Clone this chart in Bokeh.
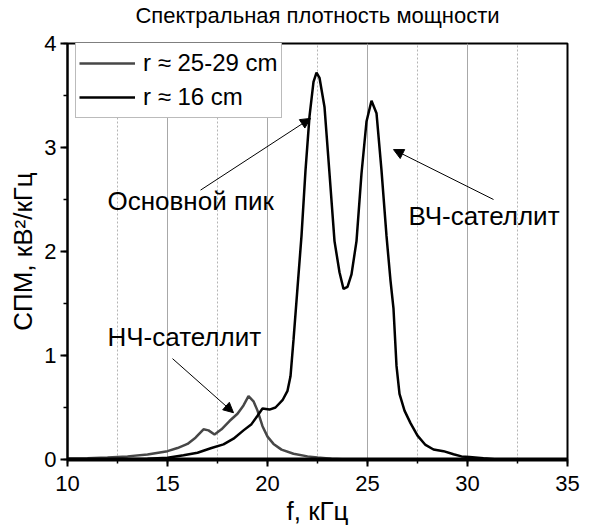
from bokeh.plotting import figure
from bokeh.models import (ColumnDataSource, SingleIntervalTicker, Label, Arrow,
                          NormalHead, Legend, LegendItem, Title)
from bokeh.embed import file_html
from bokeh.resources import INLINE

FONT = "Liberation Sans"

# Power spectral density, r ~ 25-29 cm (grey curve)
f_far = [10, 11, 12, 13, 14, 15, 15.5, 16, 16.4, 16.8, 17.05, 17.35, 17.7, 18.1,
         18.5, 18.8, 19.05, 19.3, 19.5, 19.75, 20.0, 20.3, 20.7, 21.3, 22.0, 22.5,
         23.2, 24]
psd_far = [0.01, 0.013, 0.02, 0.03, 0.048, 0.08, 0.11, 0.15, 0.21, 0.29, 0.28, 0.24,
           0.29, 0.37, 0.44, 0.52, 0.61, 0.56, 0.47, 0.32, 0.22, 0.15, 0.095, 0.055,
           0.03, 0.02, 0.008, 0.0]

# Power spectral density, r ~ 16 cm (black curve)
f_near = [10, 12, 13, 14, 15, 15.8, 16.5, 17.2, 17.8, 18.3, 18.8, 19.2, 19.5, 19.75,
          20.1, 20.4, 20.75, 21.0, 21.15, 21.3, 21.5, 21.7, 21.9, 22.1, 22.3, 22.45,
          22.6, 22.85, 23.1, 23.35, 23.6, 23.8, 24.0, 24.2, 24.45, 24.7, 24.95, 25.2,
          25.45, 25.7, 25.95, 26.15, 26.3, 26.45, 26.6, 26.85, 27.15, 27.5, 27.9,
          28.3, 28.8, 29.3, 29.7, 30.1, 30.8, 31.5, 35]
psd_near = [0.0, 0.002, 0.005, 0.008, 0.016, 0.04, 0.065, 0.11, 0.145, 0.2, 0.28,
            0.34, 0.42, 0.49, 0.48, 0.5, 0.57, 0.66, 0.8, 1.15, 1.65, 2.15, 2.78, 3.3,
            3.63, 3.72, 3.67, 3.39, 2.75, 2.1, 1.8, 1.64, 1.66, 1.78, 2.1, 2.75, 3.25,
            3.45, 3.33, 2.78, 2.15, 1.72, 1.45, 0.9, 0.63, 0.47, 0.35, 0.23, 0.14,
            0.096, 0.08, 0.05, 0.03, 0.025, 0.012, 0.0, 0.0]

series_labels = ["r \u2248 25-29 cm", "r \u2248 16 cm"]
series_colors = ["#474747", "#000000"]

title_text = "Спектральная плотность мощности"
x_label = "f, кГц"
y_label = "СПМ, кВ\u00b2/кГц"

# Annotation texts, anchors and arrow endpoints (data coordinates)
notes = ["Основной пик", "ВЧ-сателлит", "НЧ-сателлит"]
note_x = [12.0, 27.05, 12.0]
note_y = [2.49, 2.34, 1.18]
arrow_from = [(16.65, 2.59), (31.3, 2.50), (15.25, 0.97)]
arrow_to = [(22.15, 3.28), (26.3, 2.98), (18.3, 0.45)]

p = figure(width=596, height=531, x_range=(10, 35), y_range=(0, 4),
           output_backend="svg", toolbar_location=None,
           min_border_left=67, min_border_right=29, min_border_top=42,
           min_border_bottom=72)
p.background_fill_color = "white"
p.border_fill_color = "white"
p.outline_line_color = "black"
p.outline_line_width = 2

# chart title
p.title.text = title_text
p.title.align = "center"
p.title.vertical_align = "top"
p.title.standoff = 4
p.title.text_font = FONT
p.title.text_font_size = "22px"
p.title.text_font_style = "normal"
p.title.text_color = "black"
# thin empty strip between title and frame
p.add_layout(Title(text=" ", text_font_size="2px", standoff=8), "above")

# x axis
p.xaxis.ticker = SingleIntervalTicker(interval=5, num_minor_ticks=2)
p.xaxis.axis_line_width = 4
p.xaxis.major_tick_line_width = 2
p.xaxis.minor_tick_line_width = 1.5
# y axis
p.yaxis.ticker = SingleIntervalTicker(interval=1, num_minor_ticks=2)
p.yaxis.axis_label = y_label
p.yaxis.axis_line_width = 2
p.yaxis.major_tick_line_width = 2
p.yaxis.minor_tick_line_width = 1.5
p.yaxis.major_label_orientation = 0
for ax in (p.xaxis, p.yaxis):
    ax.axis_line_color = "black"
    ax.major_tick_line_color = "black"
    ax.minor_tick_line_color = "black"
    ax.major_tick_out = 7
    ax.major_tick_in = 0
    ax.minor_tick_out = 4
    ax.minor_tick_in = 0
    ax.major_label_text_font = FONT
    ax.major_label_text_font_size = "22px"
    ax.major_label_text_color = "black"
    ax.axis_label_text_font = FONT
    ax.axis_label_text_font_size = "26px"
    ax.axis_label_text_font_style = "normal"
    ax.axis_label_text_color = "black"
p.xaxis.major_label_standoff = 9
p.yaxis.major_label_standoff = 4
p.yaxis.axis_label_standoff = 3

# x-axis caption
p.add_layout(Title(text=x_label, align="center", vertical_align="bottom",
                   standoff=0, text_font=FONT, text_font_size="26px",
                   text_font_style="normal", text_color="black"), "below")

# vertical grid only
p.ygrid.grid_line_color = None
p.xgrid.grid_line_color = "#a8a8a8"
p.xgrid.grid_line_width = 1
p.xgrid.minor_grid_line_color = "#b4b4b4"
p.xgrid.minor_grid_line_dash = "2 2"
p.xgrid.minor_grid_line_width = 1

src_far = ColumnDataSource(dict(x=f_far, y=psd_far))
src_near = ColumnDataSource(dict(x=f_near, y=psd_near))
r_far = p.line("x", "y", source=src_far, line_color=series_colors[0], line_width=2.5)
r_near = p.line("x", "y", source=src_near, line_color=series_colors[1], line_width=2.5)

legend = Legend(items=[LegendItem(label=series_labels[0], renderers=[r_far]),
                       LegendItem(label=series_labels[1], renderers=[r_near])],
                location=(8, 341), orientation="vertical",
                glyph_width=56, glyph_height=34, spacing=0, padding=3, margin=0,
                label_standoff=8, label_text_font=FONT, label_text_font_size="24px",
                label_text_color="black", border_line_color="#777777",
                border_line_width=1, background_fill_color="white",
                background_fill_alpha=1.0)
p.add_layout(legend)

for txt, tx, ty in zip(notes, note_x, note_y):
    p.add_layout(Label(x=tx, y=ty, text=txt, text_font=FONT, text_font_size="26px",
                       text_color="black", text_baseline="middle", text_align="left"))

for (x0, y0), (x1, y1) in zip(arrow_from, arrow_to):
    p.add_layout(Arrow(x_start=x0, y_start=y0, x_end=x1, y_end=y1,
                       line_color="black", line_width=1,
                       end=NormalHead(size=10, fill_color="black", line_color="black",
                                      line_width=1)))

open("out.html", "w").write(file_html(p, INLINE))
